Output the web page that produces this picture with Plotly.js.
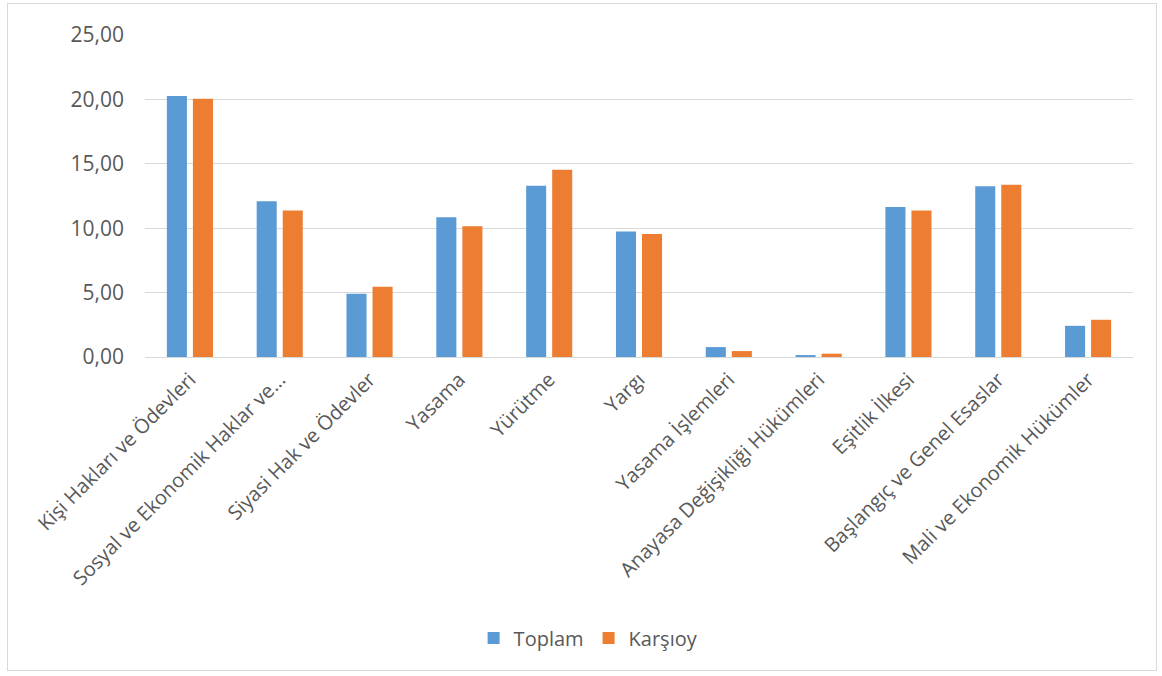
<!DOCTYPE html>
<html>
<head>
<meta charset="utf-8">
<script src="https://cdn.plot.ly/plotly-3.0.1.min.js"></script>
<style>
  html, body { margin:0; padding:0; background:#fff; }
  #frame { position:absolute; left:7px; top:3px; width:1150px; height:668px; border:1px solid #d9d9d9; box-sizing:border-box; }
  #chart { position:absolute; left:0; top:0; width:1162px; height:676px; }
</style>
</head>
<body>
<div id="frame"></div>
<div id="chart"></div>
<script>
const categories = [
  "Kişi Hakları ve Ödevleri",
  "Sosyal ve Ekonomik Haklar ve...",
  "Siyasi Hak ve Ödevler",
  "Yasama",
  "Yürütme",
  "Yargı",
  "Yasama İşlemleri",
  "Anayasa Değişikliği Hükümleri",
  "Eşitlik İlkesi",
  "Başlangıç ve Genel Esaslar",
  "Mali ve Ekonomik Hükümler"
];
const toplam  = [20.26, 12.09, 4.92, 10.85, 13.30, 9.74, 0.77, 0.15, 11.65, 13.25, 2.42];
const karsioy = [20.05, 11.37, 5.46, 10.15, 14.54, 9.54, 0.46, 0.26, 11.37, 13.38, 2.89];
const yTicks = [0, 5, 10, 15, 20, 25];

const fontFam = "'Open Sans', 'Noto Sans', sans-serif";
const data = [
  { type:"bar", name:"Toplam", x:categories, y:toplam, marker:{color:"#5b9bd5"} },
  { type:"bar", name:"Karşıoy", x:categories, y:karsioy, marker:{color:"#ed7d31"} }
];
const layout = {
  width:1162, height:676,
  margin:{l:145, r:29, t:35, b:319},
  paper_bgcolor:"rgba(0,0,0,0)", plot_bgcolor:"rgba(0,0,0,0)",
  separators:",.",
  barmode:"group", bargap:0.42, bargroupgap:0.23,
  font:{family:fontFam, color:"#595959", size:16},
  xaxis:{ type:"category", tickangle:-45, showgrid:false, showline:false, zeroline:false, ticks:"",
          ticklabelstandoff:6, tickfont:{size:20, color:"#595959"}, automargin:false },
  yaxis:{ range:[0,25], tickvals:yTicks, tickformat:".2f", showgrid:true, gridcolor:"#d9d9d9", gridwidth:1,
          zeroline:true, zerolinecolor:"#d9d9d9", zerolinewidth:1, showline:false, ticks:"",
          ticklabelstandoff:20, tickfont:{size:21, color:"#595959"}, automargin:false },
  showlegend:true,
  legend:{ orientation:"h", x:0.449, xanchor:"center", y:-0.873, yanchor:"middle",
           font:{size:20, color:"#595959"}, itemwidth:30, traceorder:"normal" }
};
Plotly.newPlot("chart", data, layout, {displayModeBar:false, staticPlot:true});
</script>
</body>
</html>
